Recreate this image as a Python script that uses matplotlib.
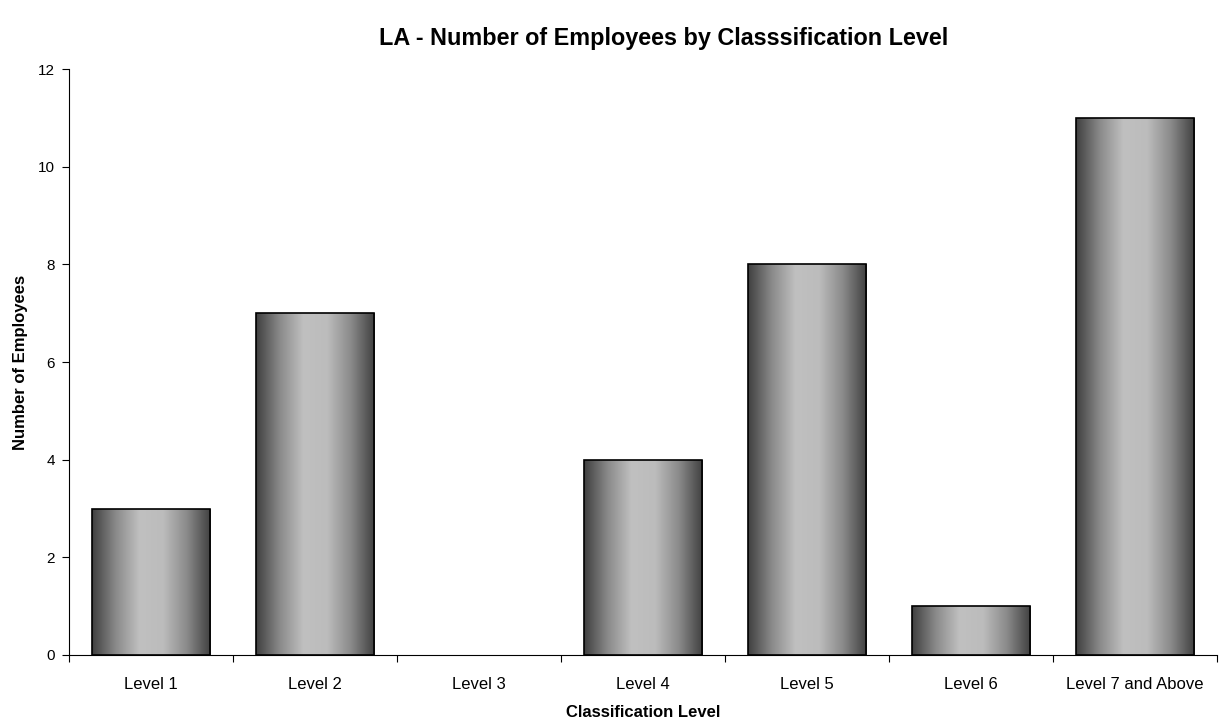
import numpy as np
import matplotlib.pyplot as plt
from matplotlib.colors import LinearSegmentedColormap

plt.rcParams['font.family'] = ['Liberation Sans', 'DejaVu Sans']

levels = ["Level 1", "Level 2", "Level 3", "Level 4", "Level 5", "Level 6", "Level 7 and Above"]
employees = [3, 7, 0, 4, 8, 1, 11]
y_ticks = [0, 2, 4, 6, 8, 10, 12]

# dark edges, light centre - cylinder-like shading
shade = LinearSegmentedColormap.from_list(
    "shade", ["#404040", "#8a8a8a", "#c0c0c0", "#bcbcbc", "#8a8a8a", "#404040"])
grad = np.linspace(0, 1, 256).reshape(1, -1)

fig = plt.figure(figsize=(12.19, 7.22), dpi=100)
ax = fig.add_axes([0.0566, 0.0928, 0.9414, 0.8116])

x = np.arange(len(levels))
bars = ax.bar(x, employees, width=0.72, color="none", edgecolor="black", linewidth=1.2, zorder=3)
for b in bars:
    if b.get_height() <= 0:
        b.set_visible(False)
        continue
    im = ax.imshow(grad, cmap=shade, aspect="auto", interpolation="bilinear",
                   extent=[b.get_x(), b.get_x() + b.get_width(), 0, b.get_height()], zorder=2)
    im.set_clip_path(b)

ax.set_xlim(-0.5, len(levels) - 0.5)
ax.set_ylim(0, 12)
ax.set_yticks(y_ticks)
ax.set_xticks(x)
ax.set_xticklabels(levels, fontsize=12)
ax.set_xticks(np.arange(len(levels) + 1) - 0.5, minor=True)
ax.tick_params(axis="x", which="major", length=0, pad=16)
ax.tick_params(axis="x", which="minor", length=5, width=0.8)
ax.tick_params(axis="y", length=5, width=0.8, labelsize=11, pad=5)

ax.spines["top"].set_visible(False)
ax.spines["right"].set_visible(False)
for s in ("left", "bottom"):
    ax.spines[s].set_linewidth(0.8)

ax.set_xlabel("Classification Level", fontsize=12, fontweight="bold", labelpad=9)
ax.set_ylabel("Number of Employees", fontsize=12, fontweight="bold", labelpad=7)
fig.text(0.5447, 0.947, "LA - Number of Employees by Classsification Level",
         fontsize=16.8, fontweight="bold", ha="center", va="center")

fig.savefig("out.png", dpi=100)
